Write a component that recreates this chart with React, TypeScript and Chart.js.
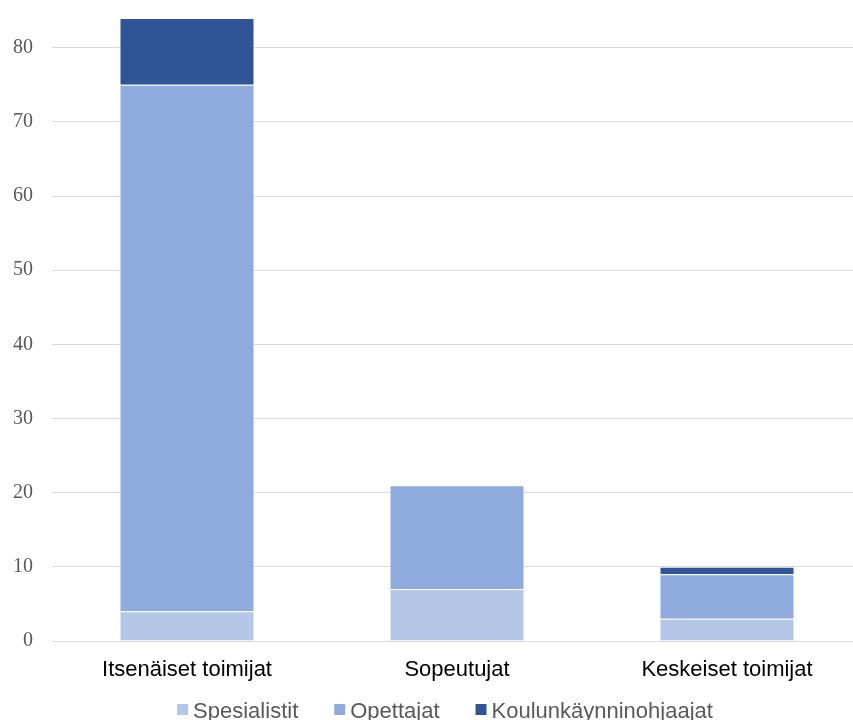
import React, { useEffect, useRef } from "react";
import { Chart, registerables } from "chart.js";

Chart.register(...registerables);

// Categories and stacked series values
const categories = ["Itsenäiset toimijat", "Sopeutujat", "Keskeiset toimijat"];
const spesialistit = [4, 7, 3];
const opettajat = [71, 14, 6];
const koulunkaynninohjaajat = [9, 0, 1];

const seriesNames = ["Spesialistit", "Opettajat", "Koulunkäynninohjaajat"];
const seriesColors = ["#b4c7e7", "#8faadc", "#2f5597"];

// Value axis
const yTickValues = [0, 10, 20, 30, 40, 50, 60, 70, 80];
const yMax = 84;

const SANS = "'Liberation Sans', Arial, Helvetica, sans-serif";
const SERIF = "'Liberation Serif', 'Times New Roman', serif";

// Legend row drawn centred under the category labels
const bottomLegend = {
  id: "bottomLegend",
  afterDraw(chart: any) {
    const ctx = chart.ctx as CanvasRenderingContext2D;
    ctx.save();
    ctx.font = `22px ${SANS}`;
    const box = 11;
    const gap = 5;
    const spacing = 36;
    const items = chart.data.datasets.map((ds: any) => ({
      label: ds.label as string,
      color: ds.backgroundColor as string,
      w: ctx.measureText(ds.label).width,
    }));
    const total =
      items.reduce((s: number, it: any) => s + box + gap + it.w, 0) +
      spacing * (items.length - 1);
    let x = 445 - total / 2;
    ctx.textBaseline = "alphabetic";
    ctx.textAlign = "left";
    for (const it of items) {
      ctx.fillStyle = it.color;
      ctx.fillRect(x, 704, box, box);
      ctx.fillStyle = "#595959";
      ctx.fillText(it.label, x + box + gap, 718);
      x += box + gap + it.w + spacing;
    }
    ctx.restore();
  },
};

function StackedBars() {
  const canvasRef = useRef<HTMLCanvasElement | null>(null);

  useEffect(() => {
    if (!canvasRef.current) return;
    const makeSet = (i: number, data: number[]) => ({
      label: seriesNames[i],
      data,
      backgroundColor: seriesColors[i],
      borderColor: "#ffffff",
      borderWidth: 1,
      barPercentage: 0.5,
      categoryPercentage: 1,
    });
    const chart = new Chart(canvasRef.current, {
      type: "bar",
      data: {
        labels: categories,
        datasets: [
          makeSet(0, spesialistit),
          makeSet(1, opettajat),
          makeSet(2, koulunkaynninohjaajat),
        ],
      },
      options: {
        responsive: false,
        animation: false,
        layout: { padding: { top: 18, right: 0, bottom: 0, left: 0 } },
        plugins: {
          legend: { display: false },
          tooltip: { enabled: false },
        },
        scales: {
          x: {
            stacked: true,
            grid: { display: false, drawTicks: false },
            border: { display: false },
            ticks: {
              color: "#000000",
              font: { family: SANS, size: 22 },
              padding: 16,
              maxRotation: 0,
            },
            afterFit(scale: any) {
              scale.height = 79;
              scale.paddingLeft = 0;
              scale.paddingRight = 0;
            },
          },
          y: {
            stacked: true,
            min: 0,
            max: yMax,
            grid: { color: "#d9d9d9", lineWidth: 1, drawTicks: false },
            border: { display: false },
            ticks: {
              stepSize: 10,
              color: "#595959",
              font: { family: SERIF, size: 20 },
              padding: 19,
            },
            afterBuildTicks(scale: any) {
              scale.ticks = yTickValues.map((v) => ({ value: v }));
            },
            afterFit(scale: any) {
              scale.width = 52;
              scale.paddingTop = 0;
              scale.paddingBottom = 0;
            },
          },
        },
      },
      plugins: [bottomLegend],
    });
    return () => chart.destroy();
  }, []);

  return <canvas ref={canvasRef} width={862} height={720} />;
}

export default function App() {
  return (
    <div
      style={{
        position: "absolute",
        left: 0,
        top: 0,
        width: 853,
        height: 720,
        overflow: "hidden",
        background: "#ffffff",
      }}
    >
      <StackedBars />
    </div>
  );
}
